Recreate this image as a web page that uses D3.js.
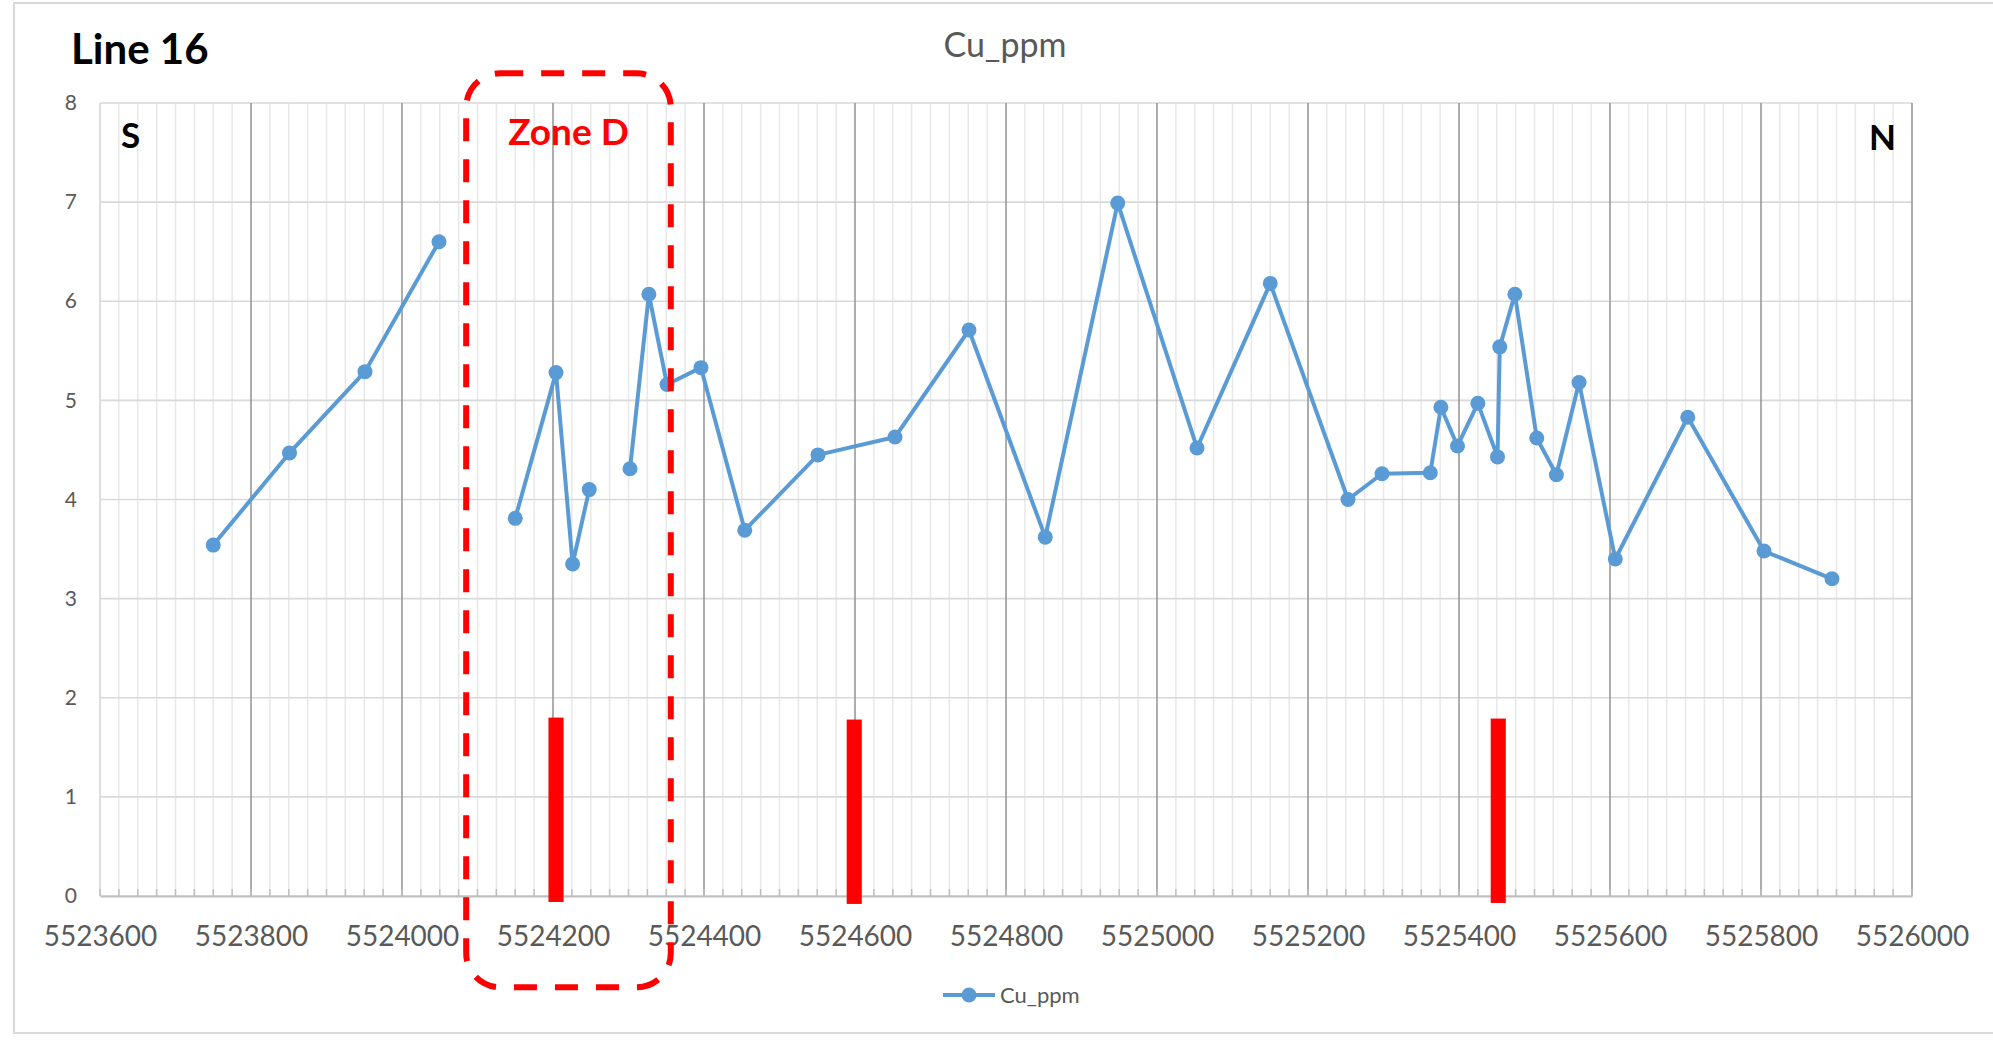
<!DOCTYPE html>
<html>
<head>
<meta charset="utf-8">
<script src="https://cdn.jsdelivr.net/npm/d3@7"></script>
<style>
  html, body { margin: 0; padding: 0; background: #ffffff; }
  svg { display: block; font-family: Lato, "Open Sans", "Liberation Sans", sans-serif; }
</style>
</head>
<body>
<svg id="chart" width="1993" height="1044"></svg>
<script>
// Sample easting (m) along Line 16, south to north; null Cu marks a missing assay
const easting = [
  5523750, 5523851, 5523951, 5524049, 5524100,
  5524150, 5524204, 5524226, 5524248, 5524275,
  5524302, 5524327, 5524351, 5524396, 5524454, 5524551, 5524653,
  5524751, 5524852, 5524948, 5525053, 5525150, 5525253, 5525298,
  5525362, 5525376, 5525398, 5525425, 5525451, 5525454, 5525474,
  5525503, 5525529, 5525559, 5525607, 5525703, 5525804, 5525894
];
const cuPpm = [
  3.54, 4.47, 5.29, 6.60, null,
  3.81, 5.28, 3.35, 4.10, null,
  4.31, 6.07, 5.16, 5.33, 3.69, 4.45, 4.63,
  5.71, 3.62, 6.99, 4.52, 6.18, 4.00, 4.26,
  4.27, 4.93, 4.54, 4.97, 4.43, 5.54, 6.07,
  4.62, 4.25, 5.18, 3.40, 4.83, 3.48, 3.20
];

// Red markers on the profile (easting, top, bottom)
const markerEasting = [5524204, 5524599, 5525452];
const markerTop = [1.80, 1.78, 1.79];
const markerBottom = [-0.06, -0.08, -0.07];

// Zone D outline: easting span and vertical span in Cu units
const zoneEasting = [5524085, 5524356];
const zoneLevels = [-0.92, 8.30];

// Axis ticks
const xTicks = d3.range(5523600, 5526001, 200);
const xMinor = d3.range(5523600, 5526001, 25);
const yTicks = [0, 1, 2, 3, 4, 5, 6, 7, 8];

const svg = d3.select("#chart");
const x = d3.scaleLinear().domain([5523600, 5526000]).range([100, 1912]);
const y = d3.scaleLinear().domain([0, 8]).range([896, 103]);

// Outer chart border
svg.append("rect")
  .attr("x", 14).attr("y", 3).attr("width", 2000).attr("height", 1030)
  .attr("fill", "none").attr("stroke", "#d9d9d9").attr("stroke-width", 2);

const grid = svg.append("g");

// Minor vertical gridlines
grid.selectAll("line.minor").data(xMinor).join("line")
  .attr("class", "minor")
  .attr("x1", d => x(d)).attr("x2", d => x(d))
  .attr("y1", y(8)).attr("y2", y(0))
  .attr("stroke", "#e8e8e8").attr("stroke-width", 1.5);

// Horizontal gridlines
grid.selectAll("line.h").data(yTicks).join("line")
  .attr("class", "h")
  .attr("x1", x(5523600)).attr("x2", x(5526000))
  .attr("y1", d => y(d)).attr("y2", d => y(d))
  .attr("stroke", "#d9d9d9").attr("stroke-width", 1.6);

// Major vertical gridlines
grid.selectAll("line.major").data(xTicks.slice(1)).join("line")
  .attr("class", "major")
  .attr("x1", d => x(d)).attr("x2", d => x(d))
  .attr("y1", y(8)).attr("y2", y(0))
  .attr("stroke", "#8a8a8a").attr("stroke-width", 1.3);

// Left edge of plot
grid.append("line")
  .attr("x1", x(5523600)).attr("x2", x(5523600))
  .attr("y1", y(8)).attr("y2", y(0))
  .attr("stroke", "#d9d9d9").attr("stroke-width", 1.5);

// Minor tick marks on the x axis
grid.selectAll("line.mt").data(xMinor).join("line")
  .attr("class", "mt")
  .attr("x1", d => x(d)).attr("x2", d => x(d))
  .attr("y1", y(0) - 7).attr("y2", y(0))
  .attr("stroke", "#bfbfbf").attr("stroke-width", 1.5);

// x axis line and labels
const xAxis = svg.append("g")
  .attr("transform", `translate(0,${y(0)})`)
  .call(d3.axisBottom(x).tickValues(xTicks).tickSize(0).tickPadding(30).tickFormat(d3.format("d")));
xAxis.select(".domain").attr("stroke", "#bfbfbf").attr("stroke-width", 2);
xAxis.selectAll("text")
  .attr("fill", "#595959").style("font-size", "28px").style("font-family", "Lato, sans-serif");

// y axis labels
const yAxis = svg.append("g")
  .attr("transform", `translate(${x(5523600)},0)`)
  .call(d3.axisLeft(y).tickValues(yTicks).tickSize(0).tickPadding(23).tickFormat(d3.format("d")));
yAxis.select(".domain").remove();
yAxis.selectAll("text")
  .attr("fill", "#595959").style("font-size", "21px").style("font-family", "Lato, sans-serif");

// Red markers
const markers = markerEasting.map((e, i) => ({ e, top: markerTop[i], bottom: markerBottom[i] }));
const markerHalf = 10; // half width in metres
svg.append("g").selectAll("rect").data(markers).join("rect")
  .attr("x", d => x(d.e - markerHalf))
  .attr("width", d => x(d.e + markerHalf) - x(d.e - markerHalf))
  .attr("y", d => y(d.top))
  .attr("height", d => y(d.bottom) - y(d.top))
  .attr("fill", "#ff0000");

// Cu series
const pts = easting.map((e, i) => ({ e, v: cuPpm[i] }));
const line = d3.line().defined(d => d.v !== null).x(d => x(d.e)).y(d => y(d.v));
svg.append("path")
  .datum(pts)
  .attr("d", line)
  .attr("fill", "none").attr("stroke", "#5b9bd5").attr("stroke-width", 4)
  .attr("stroke-linejoin", "round");
svg.append("g").selectAll("circle").data(pts.filter(d => d.v !== null)).join("circle")
  .attr("cx", d => x(d.e)).attr("cy", d => y(d.v)).attr("r", 7.5)
  .attr("fill", "#5b9bd5");

// Titles and labels
svg.append("text").text("Cu_ppm")
  .attr("x", 1005).attr("y", 57).attr("text-anchor", "middle")
  .attr("fill", "#595959").style("font-size", "34px");
svg.append("text").text("Line 16")
  .attr("x", 71).attr("y", 64)
  .attr("fill", "#000").style("font-size", "42px").style("font-weight", "bold");
svg.append("text").text("S")
  .attr("x", 121).attr("y", 148)
  .attr("fill", "#000").style("font-size", "35px").style("font-weight", "bold");
svg.append("text").text("N")
  .attr("x", 1869).attr("y", 150)
  .attr("fill", "#000").style("font-size", "35px").style("font-weight", "bold");

// Zone D outline and label
const zx0 = x(zoneEasting[0]), zx1 = x(zoneEasting[1]);
const zy0 = y(zoneLevels[1]), zy1 = y(zoneLevels[0]);
svg.append("rect")
  .attr("x", zx0).attr("y", zy0)
  .attr("width", zx1 - zx0).attr("height", zy1 - zy0)
  .attr("rx", 34).attr("ry", 34)
  .attr("fill", "none").attr("stroke", "#ff0000").attr("stroke-width", 6)
  .attr("stroke-dasharray", "23 18");
svg.append("text").text("Zone D")
  .attr("x", (zx0 + zx1) / 2).attr("y", 145).attr("text-anchor", "middle")
  .attr("fill", "#ff0000").style("font-size", "37px").style("font-weight", "bold");

// Legend
const lg = svg.append("g").attr("transform", "translate(943,995)");
lg.append("line").attr("x1", 0).attr("x2", 52).attr("y1", 0).attr("y2", 0)
  .attr("stroke", "#5b9bd5").attr("stroke-width", 4);
lg.append("circle").attr("cx", 26).attr("cy", 0).attr("r", 7.5).attr("fill", "#5b9bd5");
lg.append("text").text("Cu_ppm").attr("x", 57).attr("y", 8)
  .attr("fill", "#595959").style("font-size", "22px");
</script>
</body>
</html>
